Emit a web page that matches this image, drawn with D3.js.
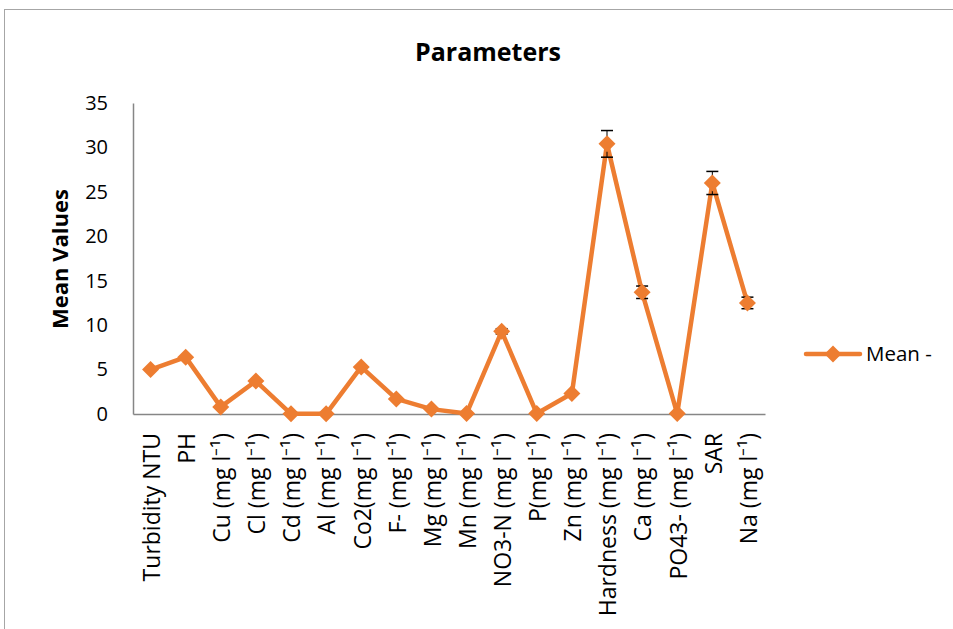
<!DOCTYPE html>
<html>
<head>
<meta charset="utf-8">
<script src="https://cdn.jsdelivr.net/npm/d3@7"></script>
<style>
html,body{margin:0;padding:0;background:#fff;}
svg{display:block;}
</style>
</head>
<body>
<svg id="chart" width="953" height="629"></svg>
<script>
const categories = ["Turbidity NTU","PH","Cu (mg l\u207B\u00B9)","Cl (mg l\u207B\u00B9)","Cd (mg l\u207B\u00B9)","Al (mg l\u207B\u00B9)","Co2(mg l\u207B\u00B9)","F- (mg l\u207B\u00B9)","Mg (mg l\u207B\u00B9)","Mn (mg l\u207B\u00B9)","NO3-N (mg l\u207B\u00B9)","P(mg l\u207B\u00B9)","Zn (mg l\u207B\u00B9)","Hardness (mg l\u207B\u00B9)","Ca (mg l\u207B\u00B9)","PO43- (mg l\u207B\u00B9)","SAR","Na (mg l\u207B\u00B9)"];
const meanValues = [5.0, 6.4, 0.8, 3.7, 0.02, 0.02, 5.3, 1.7, 0.55, 0.05, 9.3, 0.05, 2.3, 30.4, 13.7, 0.05, 26.0, 12.5];
const errorValues = [0, 0, 0, 0, 0, 0, 0, 0, 0, 0, 0.3, 0, 0, 1.5, 0.7, 0, 1.3, 0.65];
const yTicks = [0, 5, 10, 15, 20, 25, 30, 35];
const seriesName = "Mean -";
const chartTitle = "Parameters";
const yTitle = "Mean Values";

const svg = d3.select("#chart");
const color = "#ED7D31";
const font = "'Open Sans', sans-serif";
const mLeft = 133, mRight = 765, mTop = 103, mBottom = 414;

svg.append("rect").attr("x",4.5).attr("y",9.5).attr("width",1000).attr("height",1000)
  .attr("fill","none").attr("stroke","#a6a6a6").attr("stroke-width",1);

const x = d3.scaleBand().domain(categories).range([mLeft,mRight]);
const y = d3.scaleLinear().domain([0,35]).range([mBottom,mTop]);

// title
svg.append("text").attr("x",488).attr("y",61).attr("text-anchor","middle")
  .attr("font-family",font).attr("font-weight","bold").attr("font-size",25)
  .attr("fill","#000").text(chartTitle);

// y axis
const yAxis = d3.axisLeft(y).tickValues(yTicks).tickSize(0).tickPadding(25);
const gy = svg.append("g").attr("transform",`translate(${mLeft},0)`).call(yAxis);
gy.select(".domain").attr("stroke","#868686").attr("stroke-width",1.5);
gy.selectAll("text").attr("font-family",font).attr("font-size",20).attr("fill","#000");

// x axis
const xAxis = d3.axisBottom(x).tickSize(0).tickPadding(0);
const gx = svg.append("g").attr("transform",`translate(0,${mBottom})`).call(xAxis);
gx.select(".domain").attr("stroke","#868686").attr("stroke-width",1.5);
gx.selectAll("text").attr("font-family",font).attr("font-size",23).attr("fill","#000")
  .attr("text-anchor","end").attr("y",0).attr("dy","0.36em")
  .attr("transform","translate(1,19) rotate(-90)");

// y title
svg.append("text").attr("transform",`translate(68,259) rotate(-90)`).attr("text-anchor","middle")
  .attr("font-family",font).attr("font-weight","bold").attr("font-size",22)
  .attr("fill","#000").text(yTitle);

const cx = d => x(d) + x.bandwidth()/2;
const pts = categories.map((c,i)=>({c, v: meanValues[i], e: errorValues[i]}));

// line
svg.append("path").datum(pts)
  .attr("d", d3.line().x(d=>cx(d.c)).y(d=>y(d.v)))
  .attr("fill","none").attr("stroke",color).attr("stroke-width",4.5).attr("stroke-linejoin","round");

// error bars
const eb = svg.append("g").selectAll("g").data(pts.filter(d=>d.e>0)).join("g");
eb.append("line").attr("x1",d=>cx(d.c)).attr("x2",d=>cx(d.c))
  .attr("y1",d=>y(d.v+d.e)).attr("y2",d=>y(d.v-d.e)).attr("stroke","#000").attr("stroke-width",1);
eb.append("line").attr("x1",d=>cx(d.c)-6).attr("x2",d=>cx(d.c)+6)
  .attr("y1",d=>y(d.v+d.e)).attr("y2",d=>y(d.v+d.e)).attr("stroke","#000").attr("stroke-width",1.5);
eb.append("line").attr("x1",d=>cx(d.c)-6).attr("x2",d=>cx(d.c)+6)
  .attr("y1",d=>y(d.v-d.e)).attr("y2",d=>y(d.v-d.e)).attr("stroke","#000").attr("stroke-width",1.5);

// markers
svg.append("g").selectAll("path").data(pts).join("path")
  .attr("d", "M0,-8.5L8.5,0L0,8.5L-8.5,0Z")
  .attr("transform", d=>`translate(${cx(d.c)},${y(d.v)})`)
  .attr("fill",color);

// legend
const lg = svg.append("g").attr("transform","translate(806,354)");
lg.append("line").attr("x1",0).attr("x2",54).attr("y1",0).attr("y2",0)
  .attr("stroke",color).attr("stroke-width",4.5).attr("stroke-linecap","round");
lg.append("path").attr("d","M0,-8.5L8.5,0L0,8.5L-8.5,0Z").attr("transform","translate(27,0)").attr("fill",color);
lg.append("text").attr("x",60).attr("y",0).attr("dy","0.35em")
  .attr("font-family",font).attr("font-size",20.5).attr("fill","#000").text(seriesName);
</script>
</body>
</html>
